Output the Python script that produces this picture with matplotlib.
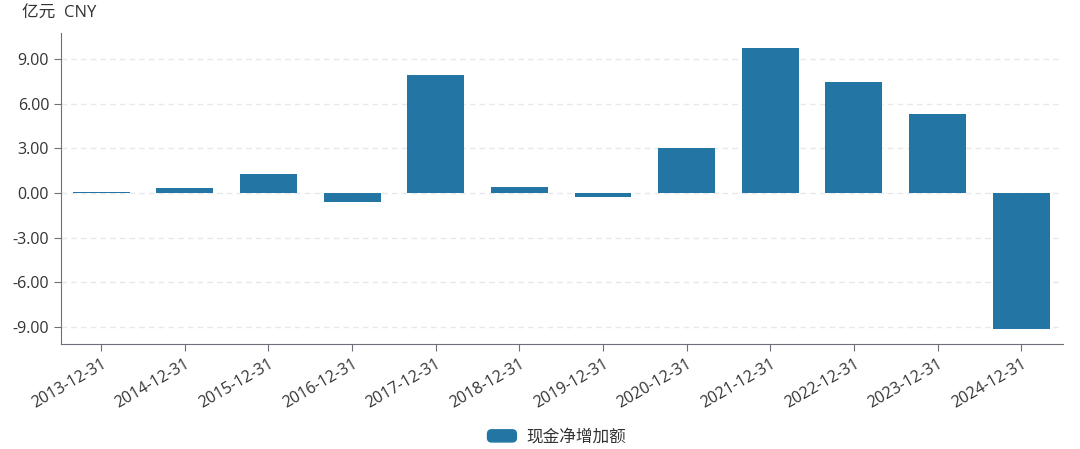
import matplotlib.pyplot as plt
from matplotlib.patches import FancyBboxPatch
from matplotlib.legend_handler import HandlerPatch

plt.rcParams['font.family'] = ['Open Sans', 'Noto Sans CJK SC', 'DejaVu Sans']

dates = ["2013-12-31", "2014-12-31", "2015-12-31", "2016-12-31", "2017-12-31", "2018-12-31",
         "2019-12-31", "2020-12-31", "2021-12-31", "2022-12-31", "2023-12-31", "2024-12-31"]
net_increase = [0.07, 0.35, 1.28, -0.6, 7.92, 0.4, -0.27, 3.02, 9.73, 7.45, 5.3, -9.13]
yticks = [-9, -6, -3, 0, 3, 6, 9]

bar_color = "#2376a3"
axis_color = "#6e7079"

fig = plt.figure(figsize=(10.8, 4.49), dpi=100)
ax = fig.add_axes([61 / 1080, 105 / 449, 1002 / 1080, 311 / 449])

x = range(len(dates))
ax.bar(x, net_increase, width=0.68, color=bar_color, label="现金净增加额", zorder=3)

ax.set_xlim(-0.48, len(dates) - 0.5)
ax.set_ylim(-10.13, 10.74)
ax.set_yticks(yticks)
ax.set_yticklabels([f"{v:.2f}" for v in yticks])
ax.set_xticks(list(x))
ax.set_xticklabels(dates, rotation=30, ha="right", rotation_mode="anchor")

ax.grid(axis="y", linestyle=(0, (4, 3)), color="#e6e8ec", linewidth=1, zorder=0)
for s in ["top", "right"]:
    ax.spines[s].set_visible(False)
for s in ["left", "bottom"]:
    ax.spines[s].set_color(axis_color)
ax.tick_params(axis="both", colors=axis_color, labelcolor="#333333", labelsize=11.5, length=5)

fig.text(22 / 1080, 1 - 14 / 449, "亿元  CNY", fontsize=12, color="#333333", va="center")


class RoundHandler(HandlerPatch):
    def create_artists(self, legend, orig_handle, xdescent, ydescent, width, height, fontsize, trans):
        p = FancyBboxPatch((-xdescent + 1, -ydescent + 1), width - 2, height - 2,
                           boxstyle="round,pad=0,rounding_size=3", color=bar_color, transform=trans)
        return [p]


handles, labels = ax.get_legend_handles_labels()
fig.legend(handles, labels, loc="center", bbox_to_anchor=(556 / 1080, 1 - 437 / 449), frameon=False,
           fontsize=12, handler_map={handles[0]: RoundHandler()}, handlelength=1.9, handleheight=1.0,
           handletextpad=0.5, labelcolor="#333333")

fig.savefig("out.png", dpi=100)
